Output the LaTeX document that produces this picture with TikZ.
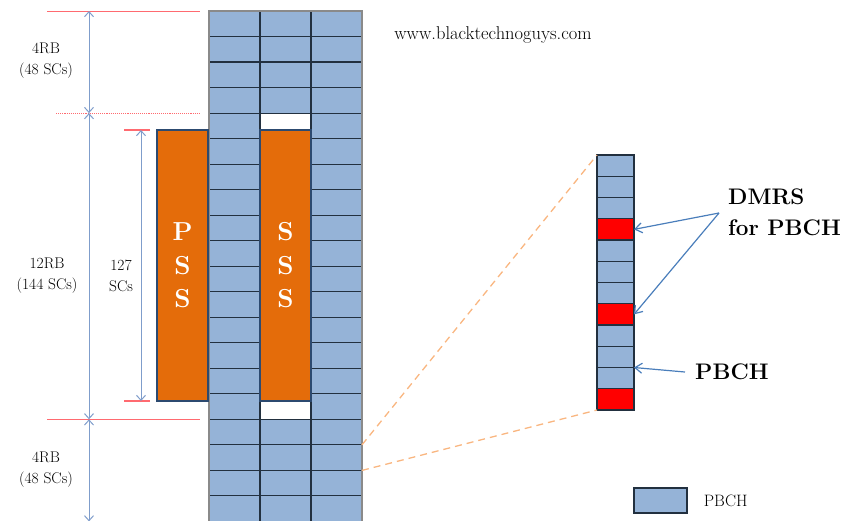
\documentclass[tikz,border=0pt]{standalone}
\usepackage{amsmath}
\usepackage{fontspec}
\usetikzlibrary{arrows.meta,positioning}

\definecolor{pbchblue}{HTML}{95B3D7}
\definecolor{gridline}{HTML}{22303F}
\definecolor{gridframe}{HTML}{8A8A8A}
\definecolor{syncorange}{HTML}{E46C0A}
\definecolor{syncedge}{HTML}{2C4A70}
\definecolor{dimblue}{HTML}{7F9DCB}
\definecolor{refred}{HTML}{FF6A70}
\definecolor{zoomline}{HTML}{F9B680}
\definecolor{callblue}{HTML}{4A7EBB}

\tikzset{
  re/.style={fill=pbchblue, draw=gridline, line width=1.1pt},
  blank/.style={fill=white, draw=gridline, line width=1.1pt},
  sync/.style={fill=syncorange, draw=syncedge, line width=1.2pt, minimum width=51pt,
    minimum height=271pt, inner sep=0pt, outer sep=0pt, text=white, align=center,
    font=\bfseries\fontsize{26}{33.5}\selectfont},
  refline/.style={refred, line width=1.1pt},
  dimarrow/.style={dimblue, line width=1pt,
    {Straight Barb[length=5pt,width=9pt]}-{Straight Barb[length=5pt,width=9pt]}},
  dimlabel/.style={align=center, font=\fontsize{15.5}{21}\selectfont, inner sep=0pt},
  zcell/.style={re, minimum width=37pt, minimum height=21.25pt, inner sep=0pt, outer sep=0pt},
  dmrscell/.style={zcell, fill=red},
  zoomlink/.style={zoomline, dash pattern=on 7pt off 5pt, line width=1.3pt},
  callout/.style={callblue, line width=1.2pt, -{Straight Barb[length=7pt,width=10pt]}},
  bigtext/.style={font=\bfseries\fontsize{22.5}{31}\selectfont, inner sep=0pt, align=left},
}

\begin{document}
\begin{tikzpicture}[x=1pt, y=-1pt]
    \useasboundingbox (0,0) rectangle (845,520);
    \clip (0,0) rectangle (845,520);

    % resource grid, 20 RBs high
    \foreach \r in {0,...,19} {
        \draw[re] (209,{11+25.52*\r}) rectangle +(51,25.52);
        \draw[re] (311,{11+25.52*\r}) rectangle +(51,25.52);
    }
    \foreach \r in {0,1,2,3,16,17,18,19}
        \draw[re] (260,{11+25.52*\r}) rectangle +(51,25.52);
    \foreach \r in {4,15}
        \draw[blank] (260,{11+25.52*\r}) rectangle +(51,25.52);
    \draw[gridframe, line width=1.4pt] (209,521.4) -- (209,11) -- (362,11) -- (362,521.4);

    % PSS and SSS
    \node[sync] (pss) at (182.5,265.5) {P\\S\\S};
    \node[sync] (sss) at (285.5,265.5) {S\\S\\S};

    % reference lines
    \draw[refline] (47,11.5) -- (200,11.5);
    \draw[refline, densely dotted] (56,113.1) -- (200,113.1);
    \draw[refline] (47,419.8) -- (200,419.8);
    \draw[refline] (124,130) -- (150,130);
    \draw[refline] (124,401) -- (150,401);

    % bandwidth arrows
    \coordinate (rb0) at (89,11);
    \coordinate (rb1) at (89,113.1);
    \coordinate (rb2) at (89,419.3);
    \coordinate (rb3) at (89,521.4);
    \draw[dimarrow] (rb0) -- (rb1);
    \draw[dimarrow] (rb1) -- (rb2);
    \draw[dimarrow] (rb2) -- (rb3);
    \coordinate (sc0) at (141,130);
    \coordinate (sc1) at (141,401);
    \draw[dimarrow] (sc0) -- (sc1);

    \node[dimlabel] (rbtop) at (46,61) {4RB\\(48 SCs)};
    \node[dimlabel] (rbmid) at (47,276) {12RB\\(144 SCs)};
    \node[dimlabel] (sclab) at (121,276) {127\\SCs};
    \node[dimlabel] (rbbot) at (46,470) {4RB\\(48 SCs)};

    % one RB zoomed
    \foreach \r in {0,...,11}
        \node[zcell] (z\r) at (615.5,{165.625+21.25*\r}) {};
    \foreach \r in {3,7,11}
        \node[dmrscell] (dm\r) at (z\r) {};

    \coordinate (rbsrc0) at (362,444.8);
    \coordinate (rbsrc1) at (362,470.4);
    \draw[zoomlink] (rbsrc0) -- (z0.north west);
    \draw[zoomlink] (rbsrc1) -- (z11.south west);

    % callouts
    \node[bigtext, anchor=west] (dmrs) at (728,212) {DMRS\\for PBCH};
    \node[bigtext, anchor=west] (pbch) at (695,372) {PBCH};
    \coordinate (dmfoot) at (719,213);
    \draw[callout] (dmfoot) -- (dm3.east);
    \draw[callout] (dmfoot) -- (dm7.east);
    \coordinate (pbfoot) at (685,372);
    \draw[callout] (pbfoot) -- (z10.north east);

    % legend
    \node[re, line width=1.3pt, minimum width=53pt, minimum height=25pt, inner sep=0pt] (legkey) at (660.5,500.5) {};
    \node[right=16pt of legkey, font=\fontsize{16.5}{18}\selectfont, inner sep=0pt] (legtxt) {PBCH};

    \node[font=\fontsize{18.5}{20}\selectfont, inner sep=0pt] (url) at (493,35) {www.blacktechnoguys.com};
\end{tikzpicture}
\end{document}
